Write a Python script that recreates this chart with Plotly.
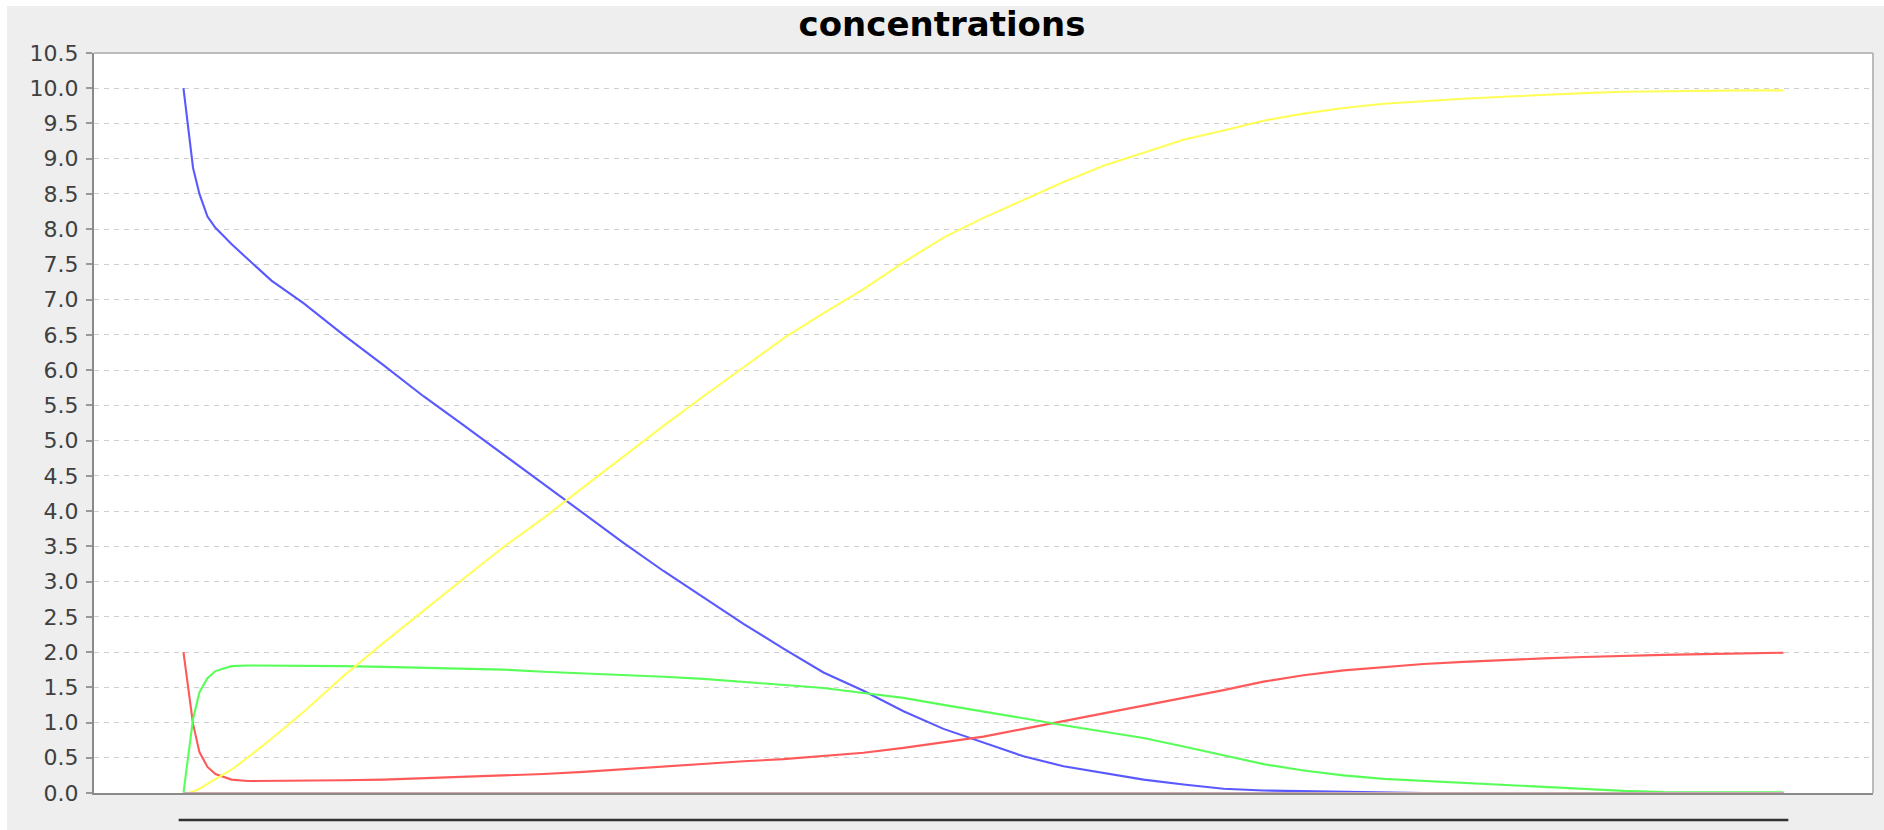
import plotly.graph_objects as go

# time points of the simulation (arbitrary units)
t = [0, 0.3, 0.6, 1, 1.5, 2, 3, 4, 5.5, 7.5, 10, 12.5, 15, 17.5, 20, 22.5, 25, 27.5,
     30, 32.5, 35, 37.5, 40, 42.5, 45, 47.5, 50, 52.5, 55, 57.5, 60, 62.5, 65, 67.5,
     70, 72.5, 75, 77.5, 80, 82.5, 85, 87.5, 90, 92.5, 95, 97.5, 100]

# substrate S
substrate = [10.0, 9.46, 8.87, 8.50, 8.18, 8.02, 7.79, 7.58, 7.27, 6.95, 6.50, 6.07,
             5.63, 5.22, 4.80, 4.38, 3.97, 3.55, 3.15, 2.77, 2.40, 2.05, 1.71, 1.45,
             1.16, 0.91, 0.71, 0.52, 0.38, 0.28, 0.19, 0.12, 0.06, 0.035, 0.025, 0.015,
             0.01, 0.0, 0.0, 0.0, 0.0, 0.0, 0.0, 0.0, 0.0, 0.0, 0.0]

# free enzyme E
enzyme = [2.0, 1.45, 0.98, 0.58, 0.37, 0.27, 0.19, 0.17, 0.17, 0.17, 0.18, 0.19,
          0.21, 0.22, 0.24, 0.27, 0.30, 0.34, 0.37, 0.42, 0.45, 0.48, 0.52, 0.57,
          0.64, 0.72, 0.80, 0.91, 1.02, 1.13, 1.23, 1.35, 1.46, 1.58, 1.67, 1.74,
          1.79, 1.83, 1.86, 1.89, 1.91, 1.93, 1.95, 1.96, 1.97, 1.98, 1.99]

# enzyme-substrate complex ES
complex_es = [0.0, 0.56, 1.05, 1.43, 1.63, 1.73, 1.80, 1.81, 1.81, 1.81, 1.80, 1.79,
              1.78, 1.77, 1.75, 1.72, 1.70, 1.67, 1.65, 1.62, 1.58, 1.54, 1.49, 1.42,
              1.35, 1.25, 1.16, 1.06, 0.96, 0.87, 0.78, 0.66, 0.54, 0.41, 0.32, 0.25,
              0.20, 0.17, 0.14, 0.11, 0.085, 0.06, 0.03, 0.015, 0.01, 0.01, 0.01]

# product P
product = [0.0, 0.0, 0.02, 0.06, 0.13, 0.20, 0.33, 0.50, 0.77, 1.15, 1.66, 2.13,
           2.59, 3.04, 3.49, 3.90, 4.34, 4.78, 5.21, 5.63, 6.04, 6.45, 6.81, 7.15,
           7.53, 7.88, 8.16, 8.42, 8.67, 8.90, 9.09, 9.27, 9.40, 9.54, 9.64, 9.72,
           9.78, 9.82, 9.85, 9.88, 9.91, 9.93, 9.95, 9.96, 9.97, 9.97, 9.97]

# a fifth species that stays at zero the whole run
inhibitor = [0.0] * len(t)

y_ticks = [i * 0.5 for i in range(22)]

series = [
    ("S", substrate, "#5959FF"),
    ("E", enzyme, "#FF5959"),
    ("ES", complex_es, "#59FF59"),
    ("P", product, "#FFFF59"),
    ("I", inhibitor, "#d2a9ae"),
]

fig = go.Figure()
for name, vals, col in series:
    fig.add_trace(go.Scatter(x=t, y=vals, mode="lines", name=name,
                             line=dict(color=col, width=2.1), hoverinfo="skip"))

x_pad = (t[-1] - t[0]) * 0.0559
fig.update_layout(
    width=1884, height=830,
    margin=dict(l=94, r=11, t=53, b=37),
    paper_bgcolor="#EEEEEE",
    plot_bgcolor="#FFFFFF",
    showlegend=False,
    title=dict(text="<b>concentrations</b>", x=0.5, xref="container", xanchor="center",
               y=1 - 24 / 830, yref="container", yanchor="middle",
               font=dict(family="DejaVu Sans", size=34, color="#000000")),
    xaxis=dict(range=[t[0] - x_pad, t[-1] + x_pad], showticklabels=False, ticks="",
               showgrid=False, zeroline=False, showline=True, linecolor="#8a8a8a",
               linewidth=2, layer="below traces"),
    yaxis=dict(range=[0, 10.5], tickvals=y_ticks, ticktext=[f"{v:.1f}" for v in y_ticks],
               ticks="outside", ticklen=6, tickcolor="#999999", tickwidth=1.5,
               ticklabelstandoff=3,
               tickfont=dict(family="DejaVu Sans", size=22, color="#404040"),
               showgrid=True, gridcolor="#CFCFCF", gridwidth=1, griddash="5px,5px",
               zeroline=False, showline=True, linecolor="#8a8a8a", linewidth=2),
    shapes=[
        # outline of the plot area (top and right sides)
        dict(type="line", xref="paper", yref="paper", x0=0, x1=1, y0=1, y1=1,
             line=dict(color="#BBBBBB", width=2)),
        dict(type="line", xref="paper", yref="paper", x0=1, x1=1, y0=0, y1=1,
             line=dict(color="#BBBBBB", width=2)),
        # time axis under the plot, spanning the simulated interval
        dict(type="line", xref="x", yref="paper", x0=t[0] - 0.3, x1=t[-1] + 0.3,
             y0=-27 / 740, y1=-27 / 740, line=dict(color="#333333", width=2.5)),
        # white strips along the top and left border of the image
        dict(type="rect", xref="paper", yref="paper", x0=-0.06, x1=1.01,
             y0=787 / 740, y1=1.08, fillcolor="#FFFFFF", line=dict(width=0)),
        dict(type="rect", xref="paper", yref="paper", x0=-0.06, x1=-87 / 1779,
             y0=-0.06, y1=1.08, fillcolor="#FFFFFF", line=dict(width=0)),
    ],
)

fig.write_html("out.html")
